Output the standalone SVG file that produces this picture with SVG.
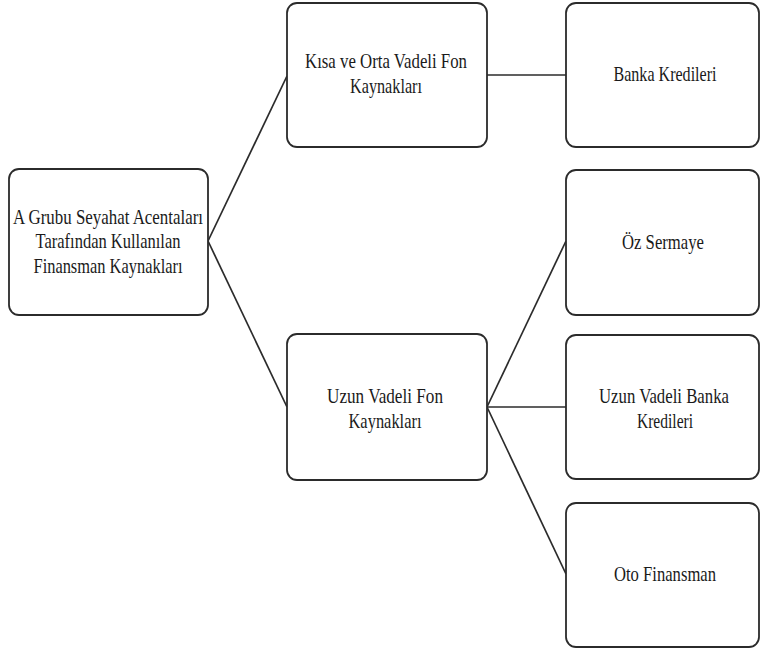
<svg xmlns="http://www.w3.org/2000/svg" width="761" height="651" viewBox="0 0 761 651">
<style>
.box{fill:#fff;stroke:#2b2b2b;stroke-width:1.8}
.lbl{font-family:"Liberation Serif","Times New Roman",serif;font-size:21px;fill:#1a1a1a;text-anchor:middle}
.conn line{stroke:#2b2b2b;stroke-width:1.7}
</style>
<rect width="761" height="651" fill="#fff"/>
<g class="conn" id="connectors">
<line x1="208" y1="241" x2="287" y2="76"/>
<line x1="208" y1="241" x2="287" y2="407"/>
<line x1="487" y1="75" x2="566" y2="75"/>
<line x1="487" y1="407" x2="566" y2="241"/>
<line x1="487" y1="407" x2="566" y2="407"/>
<line x1="487" y1="407" x2="566" y2="574"/>
</g>
<g id="root">
<rect class="box" x="9" y="169" width="199" height="146" rx="10"/>
<text class="lbl" x="108" y="224" textLength="190" lengthAdjust="spacingAndGlyphs">A Grubu Seyahat Acentaları</text>
<text class="lbl" x="108" y="248" textLength="145" lengthAdjust="spacingAndGlyphs">Tarafından Kullanılan</text>
<text class="lbl" x="108" y="273" textLength="149" lengthAdjust="spacingAndGlyphs">Finansman Kaynakları</text>
</g>
<g id="kisa">
<rect class="box" x="287" y="3" width="200" height="144" rx="10"/>
<text class="lbl" x="386" y="68" textLength="162" lengthAdjust="spacingAndGlyphs">Kısa ve Orta Vadeli  Fon</text>
<text class="lbl" x="386" y="93" textLength="72" lengthAdjust="spacingAndGlyphs">Kaynakları</text>
</g>
<g id="uzun">
<rect class="box" x="287" y="334" width="200" height="146" rx="10"/>
<text class="lbl" x="385" y="403" textLength="116" lengthAdjust="spacingAndGlyphs">Uzun Vadeli  Fon</text>
<text class="lbl" x="385" y="428" textLength="73" lengthAdjust="spacingAndGlyphs">Kaynakları</text>
</g>
<g id="banka">
<rect class="box" x="566" y="3" width="193" height="144" rx="10"/>
<text class="lbl" x="665" y="81" textLength="103" lengthAdjust="spacingAndGlyphs">Banka Kredileri</text>
</g>
<g id="ozsermaye">
<rect class="box" x="566" y="170" width="193" height="145" rx="10"/>
<text class="lbl" x="663" y="249" textLength="82" lengthAdjust="spacingAndGlyphs">Öz Sermaye</text>
</g>
<g id="uzunbanka">
<rect class="box" x="566" y="335" width="193" height="144" rx="10"/>
<text class="lbl" x="664" y="403" textLength="130" lengthAdjust="spacingAndGlyphs">Uzun Vadeli  Banka</text>
<text class="lbl" x="665" y="428" textLength="56" lengthAdjust="spacingAndGlyphs">Kredileri</text>
</g>
<g id="oto">
<rect class="box" x="566" y="503" width="193" height="144" rx="10"/>
<text class="lbl" x="665" y="581" textLength="102" lengthAdjust="spacingAndGlyphs">Oto Finansman</text>
</g>
</svg>
